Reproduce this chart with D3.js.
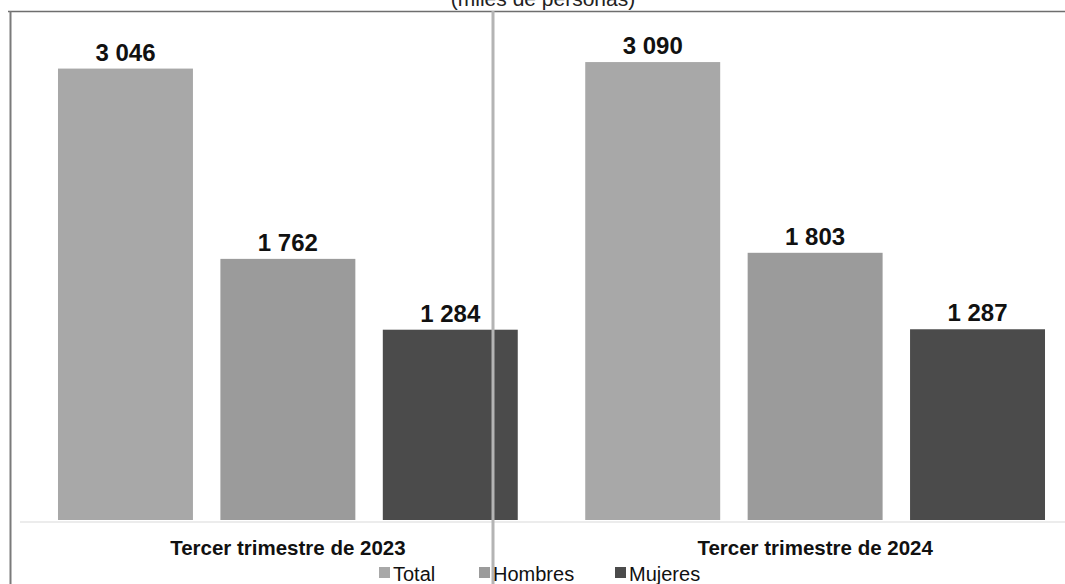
<!DOCTYPE html>
<html>
<head>
<meta charset="utf-8">
<script src="https://cdn.jsdelivr.net/npm/d3@7"></script>
<style>
  html, body { margin: 0; padding: 0; background: #ffffff; }
  svg { display: block; }
</style>
</head>
<body>
<svg id="chart" width="1065" height="584"></svg>
<script>
const categories = ["Tercer trimestre de 2023", "Tercer trimestre de 2024"];
const seriesNames = ["Total", "Hombres", "Mujeres"];
const totalValues = [3046, 3090];
const hombresValues = [1762, 1803];
const mujeresValues = [1284, 1287];
const subtitle = "(miles de personas)";

const seriesValues = [totalValues, hombresValues, mujeresValues];
const colors = ["#a8a8a8", "#9b9b9b", "#4b4b4b"];

const data = categories.map((c, i) => ({
  category: c,
  values: seriesNames.map((s, j) => ({ series: s, value: seriesValues[j][i] }))
}));

const svg = d3.select("#chart");
const fmt = v => d3.format(",")(v).replace(/,/g, " ");

const baseY = 520;
const y = d3.scaleLinear().domain([0, 3200]).range([baseY, baseY - 3200 * 0.1482]);

const x0 = d3.scaleBand().domain(categories)
  .range([24.25, 1078.75]).paddingInner(0.128).paddingOuter(0.064);
const x1 = d3.scaleBand().domain(seriesNames)
  .range([0, x0.bandwidth()]).paddingInner(0.169).paddingOuter(0);
const color = d3.scaleOrdinal().domain(seriesNames).range(colors);

// faint baseline
svg.append("line")
  .attr("x1", 20).attr("x2", 1065)
  .attr("y1", baseY + 2).attr("y2", baseY + 2)
  .attr("stroke", "#e6e6e6").attr("stroke-width", 1.5);

// bars
const groups = svg.selectAll("g.grp").data(data).enter().append("g")
  .attr("class", "grp")
  .attr("transform", d => `translate(${x0(d.category)},0)`);

groups.selectAll("rect").data(d => d.values).enter().append("rect")
  .attr("x", d => x1(d.series))
  .attr("y", d => y(d.value))
  .attr("width", x1.bandwidth())
  .attr("height", d => y(0) - y(d.value))
  .attr("fill", d => color(d.series));

groups.selectAll("text.val").data(d => d.values).enter().append("text")
  .attr("class", "val")
  .attr("x", d => x1(d.series) + x1.bandwidth() / 2)
  .attr("y", d => y(d.value) - 8)
  .attr("text-anchor", "middle")
  .attr("font-family", "Liberation Sans, Arial, sans-serif")
  .attr("font-weight", "bold")
  .attr("font-size", 24)
  .attr("fill", "#111")
  .text(d => fmt(d.value));

// category axis labels
const xAxis = d3.axisBottom(x0).tickSize(0).tickPadding(0);
const ax = svg.append("g").attr("transform", `translate(0,${baseY})`).call(xAxis);
ax.select(".domain").remove();
ax.selectAll("text")
  .attr("dy", 0)
  .attr("y", 35)
  .attr("font-family", "Liberation Sans, Arial, sans-serif")
  .attr("font-weight", "bold")
  .attr("font-size", 20.5)
  .attr("fill", "#111");

// title (cut off at top, as in the scan)
svg.append("text")
  .attr("x", 543).attr("y", 6)
  .attr("text-anchor", "middle")
  .attr("font-family", "Liberation Sans, Arial, sans-serif")
  .attr("font-size", 21)
  .attr("fill", "#222")
  .text(subtitle);

// frame lines (scan)
svg.append("line").attr("x1", 8).attr("x2", 1065).attr("y1", 11.5).attr("y2", 11.5)
  .attr("stroke", "#6e6e6e").attr("stroke-width", 1.5);
svg.append("line").attr("x1", 10.5).attr("x2", 10.5).attr("y1", 11).attr("y2", 584)
  .attr("stroke", "#7a7a7a").attr("stroke-width", 2);
svg.append("line").attr("x1", 493).attr("x2", 493).attr("y1", 11).attr("y2", 584)
  .attr("stroke", "#b4b4b4").attr("stroke-width", 3);

// legend
const legendX = [379, 479, 615];
const leg = svg.selectAll("g.leg").data(seriesNames).enter().append("g")
  .attr("class", "leg")
  .attr("transform", (d, i) => `translate(${legendX[i]},567)`);
leg.append("rect").attr("width", 11).attr("height", 11).attr("fill", d => color(d));
leg.append("text")
  .attr("x", 14)
  .attr("y", 14)
  .attr("font-family", "Liberation Sans, Arial, sans-serif")
  .attr("font-size", 20)
  .attr("fill", "#111")
  .text(d => d);
</script>
</body>
</html>
